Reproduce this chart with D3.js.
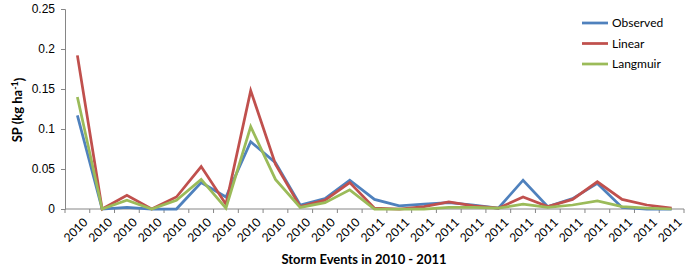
<!DOCTYPE html>
<html>
<head>
<meta charset="utf-8">
<script src="https://cdn.jsdelivr.net/npm/d3@7"></script>
<style>
  body { margin: 0; background: #fff; }
  svg { display: block; font-family: Lato, "Open Sans", sans-serif; }
</style>
</head>
<body>
<div id="chart"></div>
<script>
// Storm events (x categories)
const years = ["2010","2010","2010","2010","2010","2010","2010","2010","2010","2010","2010","2010",
  "2011","2011","2011","2011","2011","2011","2011","2011","2011","2011","2011","2011","2011"];

// SP values (kg ha-1) per storm event
const observed = [0.117, 0, 0.002, 0, 0, 0.033, 0.015, 0.084, 0.058, 0.005, 0.013, 0.036, 0.012,
  0.004, 0.006, 0.008, 0.005, 0.001, 0.036, 0.003, 0.013, 0.032, 0.002, 0, 0];
const linear = [0.192, 0, 0.017, 0, 0.015, 0.053, 0.006, 0.148, 0.056, 0.003, 0.011, 0.033, 0.001,
  0, 0.003, 0.009, 0.004, 0.001, 0.015, 0.003, 0.012, 0.034, 0.012, 0.005, 0.001];
const langmuir = [0.140, 0, 0.011, 0, 0.011, 0.037, 0.001, 0.103, 0.037, 0.002, 0.008, 0.024, 0,
  0, 0, 0.002, 0.002, 0.001, 0.006, 0.002, 0.005, 0.010, 0.003, 0.001, 0];

const yTicks = [0, 0.05, 0.1, 0.15, 0.2, 0.25];

const series = [
  { name: "Observed", values: observed, color: "#4F81BD" },
  { name: "Linear", values: linear, color: "#C0504D" },
  { name: "Langmuir", values: langmuir, color: "#9BBB59" }
];

const width = 690, height = 271;
const margin = { top: 9, right: 6, bottom: 62, left: 65 };
const innerW = width - margin.left - margin.right;
const innerH = height - margin.top - margin.bottom;

const svg = d3.select("#chart").append("svg")
  .attr("width", width)
  .attr("height", height);

const g = svg.append("g")
  .attr("transform", `translate(${margin.left},${margin.top})`);

const x = d3.scaleBand()
  .domain(d3.range(years.length))
  .range([0, innerW]);

const y = d3.scaleLinear()
  .domain([0, 0.25])
  .range([innerH, 0]);

const axisColor = "#868686";

// Y axis
const yAxis = g.append("g")
  .call(d3.axisLeft(y).tickValues(yTicks).tickSize(4).tickPadding(6)
    .tickFormat(d => d === 0 ? "0" : String(+d.toFixed(2))));
yAxis.select(".domain").attr("stroke", axisColor);
yAxis.selectAll(".tick line").attr("stroke", axisColor);
yAxis.selectAll("text").attr("fill", "#000").style("font-size", "12px");

// X axis: ticks at band boundaries
const xAxis = g.append("g").attr("transform", `translate(0,${innerH})`);
xAxis.append("line")
  .attr("x1", 0).attr("x2", innerW)
  .attr("stroke", axisColor);
xAxis.selectAll("line.tick")
  .data(d3.range(years.length + 1))
  .join("line")
  .attr("class", "tick")
  .attr("x1", d => d * x.bandwidth()).attr("x2", d => d * x.bandwidth())
  .attr("y1", 0).attr("y2", 4)
  .attr("stroke", axisColor);
xAxis.selectAll("text")
  .data(years)
  .join("text")
  .attr("transform", (d, i) => `translate(${x(i) + x.bandwidth() / 2 + 5},${8}) rotate(-45)`)
  .attr("text-anchor", "end")
  .attr("dy", "0.71em")
  .style("font-size", "12px")
  .attr("fill", "#000")
  .text(d => d);

// Lines
const line = d3.line()
  .x((d, i) => x(i) + x.bandwidth() / 2)
  .y(d => y(d));

g.selectAll("path.series")
  .data(series)
  .join("path")
  .attr("class", "series")
  .attr("fill", "none")
  .attr("stroke", d => d.color)
  .attr("stroke-width", 2.75)
  .attr("stroke-linejoin", "miter")
  .attr("d", d => line(d.values));

// Axis titles
const yTitle = svg.append("text")
  .attr("transform", `translate(22,110) rotate(-90)`)
  .attr("text-anchor", "middle")
  .style("font-size", "13px")
  .style("font-weight", "bold")
  .attr("fill", "#000");
yTitle.append("tspan").text("SP (kg ha");
yTitle.append("tspan").attr("dy", "-0.45em").style("font-size", "9px").text("-1");
yTitle.append("tspan").attr("dy", "0.45em").text(")");

svg.append("text")
  .attr("x", 364)
  .attr("y", 264)
  .attr("text-anchor", "middle")
  .style("font-size", "13px")
  .style("font-weight", "bold")
  .attr("fill", "#000")
  .text("Storm Events in 2010 - 2011");

// Legend
const legend = svg.append("g").attr("transform", "translate(582,23)");
const items = legend.selectAll("g")
  .data(series)
  .join("g")
  .attr("transform", (d, i) => `translate(0,${i * 20.5})`);
items.append("line")
  .attr("x1", 0).attr("x2", 26)
  .attr("stroke", d => d.color)
  .attr("stroke-width", 2.75);
items.append("text")
  .attr("x", 30)
  .attr("dy", "0.35em")
  .style("font-size", "12px")
  .attr("fill", "#000")
  .text(d => d.name);
</script>
</body>
</html>
